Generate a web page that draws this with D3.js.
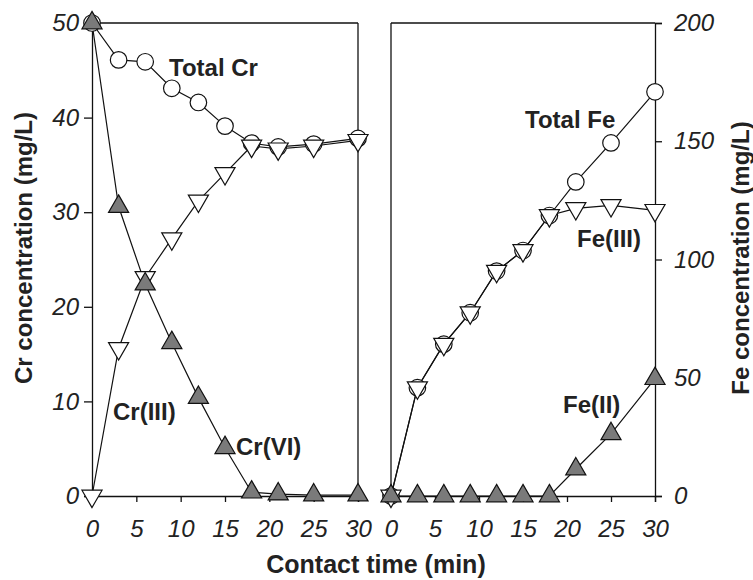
<!DOCTYPE html>
<html><head><meta charset="utf-8">
<script src="https://cdn.jsdelivr.net/npm/d3@7"></script>
<style>body{margin:0;background:#fff}svg{display:block}</style>
</head><body><svg id="c" width="753" height="580"></svg>
<script>
const time = [0, 3, 6, 9, 12, 15, 18, 21, 25, 30];
const totalCr = [50, 46.1, 45.9, 43.1, 41.6, 39.1, 37.3, 36.9, 37.2, 37.8];
const cr3 = [0, 15.6, 23.1, 27.2, 31.2, 34.1, 37.0, 36.7, 37.0, 37.6];
const cr6 = [50, 30.6, 22.4, 16.2, 10.4, 5.1, 0.4, 0.2, 0.1, 0.1];
const totalFe = [0, 45.8, 64.2, 77.5, 95.1, 103.8, 118.6, 132.8, 149.3, 170.9];
const fe3 = [0, 45.8, 64.2, 77.5, 95.1, 103.8, 118.6, 121.6, 122.9, 120.8];
const fe2 = [0, 0, 0, 0, 0, 0, 0, 11.4, 26.3, 49.6];
const xTicks = [0, 5, 10, 15, 20, 25, 30];
const crTicks = [0, 10, 20, 30, 40, 50];
const feTicks = [0, 50, 100, 150, 200];

const svg = d3.select("#c");
const font = "'Liberation Sans', Arial, Helvetica, sans-serif";
const yTop = 23, yBot = 496;

const xL = d3.scaleLinear().domain([0, 30]).range([92, 358]);
const xR = d3.scaleLinear().domain([0, 30]).range([391, 655]);
const yCr = d3.scaleLinear().domain([0, 50]).range([yBot, yTop]);
const yFe = d3.scaleLinear().domain([0, 200]).range([yBot, yTop]);

function styleAxis(g) {
  g.selectAll("path.domain").attr("stroke", "#111").attr("stroke-width", 1.3);
  g.selectAll(".tick line").attr("stroke", "#111").attr("stroke-width", 1.3);
  g.selectAll(".tick text").attr("font-family", font).attr("font-style", "italic")
    .attr("font-size", 24).attr("fill", "#222");
}

// Left panel frame
svg.append("line").attr("x1", xL(0)).attr("x2", xL(30)).attr("y1", yTop).attr("y2", yTop).attr("stroke", "#111").attr("stroke-width", 1.3);
svg.append("line").attr("x1", xL(30)).attr("x2", xL(30)).attr("y1", yTop).attr("y2", yBot).attr("stroke", "#111").attr("stroke-width", 1.3);
// Right panel frame
svg.append("line").attr("x1", xR(0)).attr("x2", xR(30)).attr("y1", yTop).attr("y2", yTop).attr("stroke", "#111").attr("stroke-width", 1.3);
svg.append("line").attr("x1", xR(0)).attr("x2", xR(0)).attr("y1", yTop).attr("y2", yBot).attr("stroke", "#111").attr("stroke-width", 1.3);

svg.append("g").attr("transform", `translate(0,${yBot})`)
  .call(d3.axisBottom(xL).tickValues(xTicks).tickSizeOuter(0).tickSize(6).tickPadding(18)).call(styleAxis);
svg.append("g").attr("transform", `translate(0,${yBot})`)
  .call(d3.axisBottom(xR).tickValues(xTicks).tickSizeOuter(0).tickSize(6).tickPadding(18)).call(styleAxis);
svg.append("g").attr("transform", `translate(${xL(0)},0)`)
  .call(d3.axisLeft(yCr).tickValues(crTicks).tickSizeOuter(0).tickSize(8).tickPadding(5)).call(styleAxis);
svg.append("g").attr("transform", `translate(${xR(30)},0)`)
  .call(d3.axisRight(yFe).tickValues(feTicks).tickSizeOuter(0).tickSize(7).tickPadding(12)).call(styleAxis);

const circ = d3.symbol().type(d3.symbolCircle).size(215);
const tri = d3.symbol().type(d3.symbolTriangle).size(175);

function series(x, y, vals) {
  const pts = time.map((t, i) => [x(t), y(vals[i])]);
  svg.append("path").attr("d", d3.line()(pts)).attr("fill", "none").attr("stroke", "#111").attr("stroke-width", 1.2);
  return pts;
}
function markers(pts, kind) {
  const g = svg.append("g");
  pts.forEach(p => {
    if (kind === "circle") g.append("path").attr("d", circ()).attr("transform", `translate(${p[0]},${p[1]})`).attr("fill", "#fff").attr("stroke", "#111").attr("stroke-width", 1.2);
    else if (kind === "down") g.append("path").attr("d", tri()).attr("transform", `translate(${p[0]},${p[1]}) rotate(180)`).attr("fill", "#fff").attr("stroke", "#111").attr("stroke-width", 1.2);
    else g.append("path").attr("d", tri()).attr("transform", `translate(${p[0]},${p[1]})`).attr("fill", "#7a7a7a").attr("stroke", "#111").attr("stroke-width", 1.2);
  });
}
const pTCr = series(xL, yCr, totalCr);
const pCr3 = series(xL, yCr, cr3);
const pCr6 = series(xL, yCr, cr6);
const pTFe = series(xR, yFe, totalFe);
const pFe3 = series(xR, yFe, fe3);
const pFe2 = series(xR, yFe, fe2);
markers(pTCr, "circle"); markers(pCr3, "down"); markers(pCr6, "up");
markers(pTFe, "circle"); markers(pFe3, "down"); markers(pFe2, "up");

function label(x, y, t) {
  svg.append("text").attr("x", x).attr("y", y).text(t).attr("font-family", font)
    .attr("font-weight", "bold").attr("font-size", 24).attr("fill", "#222");
}
label(169, 76, "Total Cr");
label(113, 420, "Cr(III)");
label(236, 455, "Cr(VI)");
label(525, 128, "Total Fe");
label(577, 247, "Fe(III)");
label(563, 413, "Fe(II)");

svg.append("text").attr("transform", "translate(32,248) rotate(-90)").attr("text-anchor", "middle")
  .attr("font-family", font).attr("font-weight", "bold").attr("font-size", 24).attr("fill", "#222")
  .text("Cr concentration (mg/L)");
svg.append("text").attr("transform", "translate(749,258) rotate(-90)").attr("text-anchor", "middle")
  .attr("font-family", font).attr("font-weight", "bold").attr("font-size", 24).attr("fill", "#222")
  .text("Fe concentration (mg/L)");
svg.append("text").attr("x", 376).attr("y", 573).attr("text-anchor", "middle")
  .attr("font-family", font).attr("font-weight", "bold").attr("font-size", 25).attr("fill", "#222")
  .text("Contact time (min)");
</script></body></html>
